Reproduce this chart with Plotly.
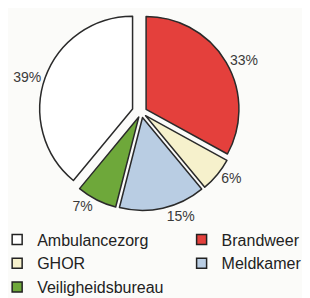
import plotly.graph_objects as go

labels = ["Ambulancezorg", "Brandweer", "GHOR", "Meldkamer", "Veiligheidsbureau"]
values = [39, 33, 6, 15, 7]
colors = ["#ffffff", "#e4403c", "#f6f1cc", "#b9cde3", "#6ea83a"]
pulls = [0.1, 0.06, 0.06, 0.06, 0.06]
legend_column = ["legend", "legend2", "legend", "legend2", "legend"]

fig = go.Figure()
fig.add_trace(go.Pie(
    labels=labels,
    values=values,
    sort=False,
    direction="clockwise",
    rotation=-140.4,
    pull=pulls,
    marker=dict(colors=colors, line=dict(color="#2a2a2a", width=1.5)),
    textinfo="percent",
    textposition="outside",
    textfont=dict(family="Liberation Sans, Arial", size=14, color="#3a3a3a"),
    domain=dict(x=[0.04, 0.82], y=[0.31, 1.0]),
    hoverinfo="label+percent",
    showlegend=False,
))

# legend entries in two columns
for lab, col, lg in zip(labels, colors, legend_column):
    fig.add_trace(go.Scatter(
        x=[None], y=[None], mode="markers", name=lab,
        marker=dict(symbol="square", size=10, color=col,
                    line=dict(color="#222222", width=1.5)),
        legend=lg, showlegend=True, hoverinfo="skip",
    ))

legend_style = dict(
    orientation="v",
    yanchor="top", xanchor="left",
    font=dict(family="Liberation Sans, Arial", size=16, color="#222222"),
    tracegroupgap=0,
    bgcolor="rgba(0,0,0,0)",
    itemwidth=30,
)

fig.update_layout(
    width=310, height=298,
    margin=dict(l=0, r=0, t=2, b=0, autoexpand=False),
    paper_bgcolor="#fbfbf9",
    plot_bgcolor="#fbfbf9",
    xaxis=dict(visible=False),
    yaxis=dict(visible=False),
    legend=dict(x=-0.035, y=0.282, **legend_style),
    legend2=dict(x=0.56, y=0.282, **legend_style),
)

fig.write_html("out.html")
